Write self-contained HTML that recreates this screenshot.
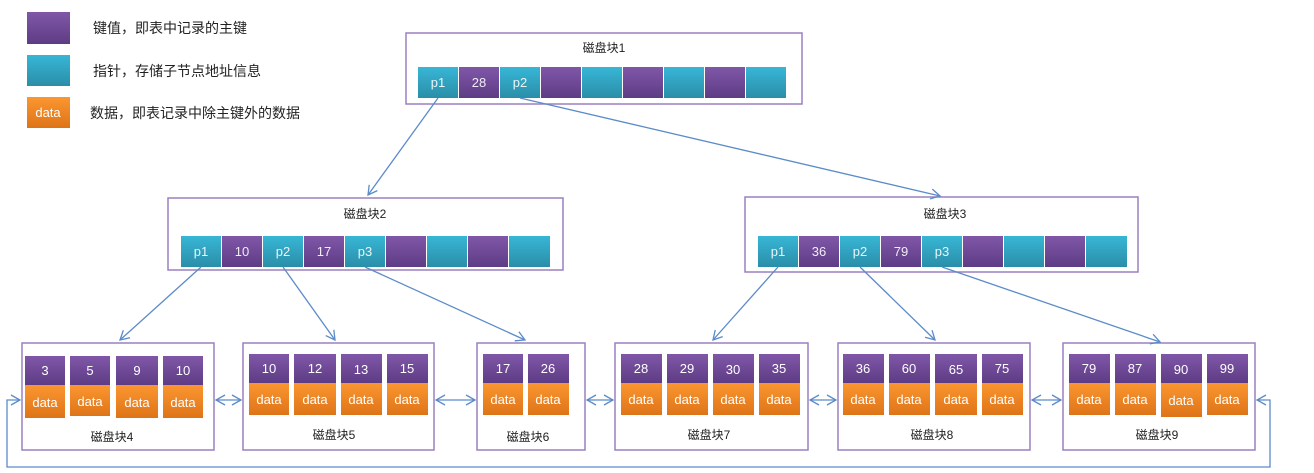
<!DOCTYPE html>
<html><head><meta charset="utf-8"><style>
html,body{margin:0;padding:0;background:#fff;}
svg{display:block;font-family:"Liberation Sans","Noto Sans CJK SC",sans-serif;}
</style></head><body>
<svg width="1314" height="473" viewBox="0 0 1314 473" xmlns="http://www.w3.org/2000/svg">
<defs>
<linearGradient id="t" x1="0" y1="0" x2="0" y2="1"><stop offset="0" stop-color="#38b6d6"/><stop offset="1" stop-color="#2a8ea8"/></linearGradient>
<linearGradient id="p" x1="0" y1="0" x2="0" y2="1"><stop offset="0" stop-color="#8057a8"/><stop offset="1" stop-color="#5e3c85"/></linearGradient>
<linearGradient id="o" x1="0" y1="0" x2="0" y2="1"><stop offset="0" stop-color="#fb9630"/><stop offset="1" stop-color="#de7418"/></linearGradient>
<marker id="a" markerWidth="12" markerHeight="12" refX="10" refY="6" orient="auto" markerUnits="userSpaceOnUse"><path d="M1,1 L10,6 L1,11" fill="none" stroke="#5b8bc9" stroke-width="1.3"/></marker>
<marker id="b" markerWidth="12" markerHeight="12" refX="2" refY="6" orient="auto" markerUnits="userSpaceOnUse"><path d="M11,1 L2,6 L11,11" fill="none" stroke="#5b8bc9" stroke-width="1.3"/></marker>
</defs>

<!-- legend -->
<rect x="27" y="12" width="43" height="32" fill="url(#p)"/>
<rect x="27" y="55" width="43" height="31" fill="url(#t)"/>
<rect x="27" y="97" width="43" height="31" fill="url(#o)"/>
<text x="48" y="117" font-size="13" fill="#fff" text-anchor="middle">data</text>
<g font-size="14" fill="#222">
<text x="93" y="33">键值，即表中记录的主键</text>
<text x="93" y="76">指针，存储子节点地址信息</text>
<text x="90" y="118">数据，即表记录中除主键外的数据</text>
</g>

<g fill="#fff" stroke="#9b80c0" stroke-width="1.5">
<rect x="406" y="33" width="396" height="71"/>
<rect x="168" y="198" width="395" height="72"/>
<rect x="745" y="197" width="393" height="75"/>
<rect x="22" y="343" width="192" height="107"/>
<rect x="243" y="343" width="191" height="107"/>
<rect x="477" y="343" width="108" height="107"/>
<rect x="615" y="343" width="193" height="107"/>
<rect x="838" y="343" width="192" height="107"/>
<rect x="1063" y="343" width="192" height="107"/>
</g>
<g font-size="12" fill="#222" text-anchor="middle">
<text x="604" y="52">磁盘块1</text>
<text x="365" y="218">磁盘块2</text>
<text x="945" y="218">磁盘块3</text>
<text x="112" y="441">磁盘块4</text>
<text x="334" y="439">磁盘块5</text>
<text x="528" y="441">磁盘块6</text>
<text x="709" y="439">磁盘块7</text>
<text x="932" y="439">磁盘块8</text>
<text x="1157" y="439">磁盘块9</text>
</g>

<!-- block1 -->
<g>
<rect x="418" y="67" width="40" height="31" fill="url(#t)"/>
<rect x="459" y="67" width="40" height="31" fill="url(#p)"/>
<rect x="500" y="67" width="40" height="31" fill="url(#t)"/>
<rect x="541" y="67" width="40" height="31" fill="url(#p)"/>
<rect x="582" y="67" width="40" height="31" fill="url(#t)"/>
<rect x="623" y="67" width="40" height="31" fill="url(#p)"/>
<rect x="664" y="67" width="40" height="31" fill="url(#t)"/>
<rect x="705" y="67" width="40" height="31" fill="url(#p)"/>
<rect x="746" y="67" width="40" height="31" fill="url(#t)"/>
</g>
<!-- block2 -->
<g>
<rect x="181" y="236" width="40" height="31" fill="url(#t)"/>
<rect x="222" y="236" width="40" height="31" fill="url(#p)"/>
<rect x="263" y="236" width="40" height="31" fill="url(#t)"/>
<rect x="304" y="236" width="40" height="31" fill="url(#p)"/>
<rect x="345" y="236" width="40" height="31" fill="url(#t)"/>
<rect x="386" y="236" width="40" height="31" fill="url(#p)"/>
<rect x="427" y="236" width="40" height="31" fill="url(#t)"/>
<rect x="468" y="236" width="40" height="31" fill="url(#p)"/>
<rect x="509" y="236" width="41" height="31" fill="url(#t)"/>
</g>
<!-- block3 -->
<g>
<rect x="758" y="236" width="40" height="31" fill="url(#t)"/>
<rect x="799" y="236" width="40" height="31" fill="url(#p)"/>
<rect x="840" y="236" width="40" height="31" fill="url(#t)"/>
<rect x="881" y="236" width="40" height="31" fill="url(#p)"/>
<rect x="922" y="236" width="40" height="31" fill="url(#t)"/>
<rect x="963" y="236" width="40" height="31" fill="url(#p)"/>
<rect x="1004" y="236" width="40" height="31" fill="url(#t)"/>
<rect x="1045" y="236" width="40" height="31" fill="url(#p)"/>
<rect x="1086" y="236" width="41" height="31" fill="url(#t)"/>
</g>
<g font-size="13" fill="#fff" text-anchor="middle" fill-opacity="0.9">
<text x="438" y="87">p1</text><text x="479" y="87">28</text><text x="520" y="87">p2</text>
<text x="201" y="256">p1</text><text x="242" y="256">10</text><text x="283" y="256">p2</text><text x="324" y="256">17</text><text x="365" y="256">p3</text>
<text x="778" y="256">p1</text><text x="819" y="256">36</text><text x="860" y="256">p2</text><text x="901" y="256">79</text><text x="942" y="256">p3</text>
</g>

<!-- leaves -->
<g>
<rect x="25" y="356" width="40" height="29" fill="url(#p)"/><rect x="25" y="385" width="40" height="33" fill="url(#o)"/>
<rect x="70" y="356" width="40" height="29" fill="url(#p)"/><rect x="70" y="385" width="40" height="31" fill="url(#o)"/>
<rect x="116" y="356" width="42" height="29" fill="url(#p)"/><rect x="116" y="385" width="42" height="33" fill="url(#o)"/>
<rect x="163" y="356" width="40" height="29" fill="url(#p)"/><rect x="163" y="385" width="40" height="33" fill="url(#o)"/>

<rect x="249" y="354" width="40" height="29" fill="url(#p)"/><rect x="249" y="383" width="40" height="32" fill="url(#o)"/>
<rect x="294" y="354" width="42" height="29" fill="url(#p)"/><rect x="294" y="383" width="42" height="32" fill="url(#o)"/>
<rect x="341" y="354" width="41" height="29" fill="url(#p)"/><rect x="341" y="383" width="41" height="32" fill="url(#o)"/>
<rect x="387" y="354" width="41" height="29" fill="url(#p)"/><rect x="387" y="383" width="41" height="32" fill="url(#o)"/>

<rect x="483" y="354" width="40" height="29" fill="url(#p)"/><rect x="483" y="383" width="40" height="32" fill="url(#o)"/>
<rect x="528" y="354" width="41" height="29" fill="url(#p)"/><rect x="528" y="383" width="41" height="32" fill="url(#o)"/>

<rect x="621" y="354" width="41" height="29" fill="url(#p)"/><rect x="621" y="383" width="41" height="32" fill="url(#o)"/>
<rect x="667" y="354" width="41" height="29" fill="url(#p)"/><rect x="667" y="383" width="41" height="32" fill="url(#o)"/>
<rect x="713" y="354" width="41" height="29" fill="url(#p)"/><rect x="713" y="383" width="41" height="32" fill="url(#o)"/>
<rect x="759" y="354" width="41" height="29" fill="url(#p)"/><rect x="759" y="383" width="41" height="32" fill="url(#o)"/>

<rect x="843" y="354" width="41" height="29" fill="url(#p)"/><rect x="843" y="383" width="41" height="32" fill="url(#o)"/>
<rect x="889" y="354" width="41" height="29" fill="url(#p)"/><rect x="889" y="383" width="41" height="32" fill="url(#o)"/>
<rect x="935" y="354" width="42" height="29" fill="url(#p)"/><rect x="935" y="383" width="42" height="32" fill="url(#o)"/>
<rect x="982" y="354" width="41" height="29" fill="url(#p)"/><rect x="982" y="383" width="41" height="32" fill="url(#o)"/>

<rect x="1069" y="354" width="41" height="29" fill="url(#p)"/><rect x="1069" y="383" width="41" height="32" fill="url(#o)"/>
<rect x="1115" y="354" width="41" height="29" fill="url(#p)"/><rect x="1115" y="383" width="41" height="32" fill="url(#o)"/>
<rect x="1161" y="354" width="41" height="29" fill="url(#p)"/><rect x="1161" y="383" width="41" height="34" fill="url(#o)"/>
<rect x="1207" y="354" width="41" height="29" fill="url(#p)"/><rect x="1207" y="383" width="41" height="32" fill="url(#o)"/>
</g>
<g font-size="13" fill="#fff" text-anchor="middle">
<text x="45" y="375">3</text><text x="90" y="375">5</text><text x="137" y="375">9</text><text x="183" y="375">10</text>
<text x="45" y="407">data</text><text x="90" y="406">data</text><text x="137" y="407">data</text><text x="183" y="407">data</text>
<text x="269" y="373">10</text><text x="315" y="373">12</text><text x="361" y="374">13</text><text x="407" y="373">15</text>
<text x="269" y="404">data</text><text x="315" y="404">data</text><text x="361" y="404">data</text><text x="407" y="404">data</text>
<text x="503" y="373">17</text><text x="548" y="373">26</text>
<text x="503" y="404">data</text><text x="548" y="404">data</text>
<text x="641" y="373">28</text><text x="687" y="373">29</text><text x="733" y="374">30</text><text x="779" y="373">35</text>
<text x="641" y="404">data</text><text x="687" y="404">data</text><text x="733" y="404">data</text><text x="779" y="404">data</text>
<text x="863" y="373">36</text><text x="909" y="373">60</text><text x="956" y="374">65</text><text x="1002" y="373">75</text>
<text x="863" y="404">data</text><text x="909" y="404">data</text><text x="956" y="404">data</text><text x="1002" y="404">data</text>
<text x="1089" y="373">79</text><text x="1135" y="373">87</text><text x="1181" y="374">90</text><text x="1227" y="373">99</text>
<text x="1089" y="404">data</text><text x="1135" y="404">data</text><text x="1181" y="405">data</text><text x="1227" y="404">data</text>
</g>

<!-- connectors -->
<g stroke="#5b8bc9" stroke-width="1.3" fill="none">
<line x1="438" y1="98" x2="368" y2="195" marker-end="url(#a)"/>
<line x1="520" y1="98" x2="940" y2="196" marker-end="url(#a)"/>
<line x1="201" y1="267" x2="120" y2="340" marker-end="url(#a)"/>
<line x1="283" y1="267" x2="335" y2="340" marker-end="url(#a)"/>
<line x1="365" y1="267" x2="525" y2="340" marker-end="url(#a)"/>
<line x1="778" y1="267" x2="713" y2="340" marker-end="url(#a)"/>
<line x1="860" y1="267" x2="935" y2="340" marker-end="url(#a)"/>
<line x1="942" y1="267" x2="1160" y2="342" marker-end="url(#a)"/>
<line x1="216" y1="400" x2="241" y2="400" marker-start="url(#b)" marker-end="url(#a)"/>
<line x1="436" y1="400" x2="475" y2="400" marker-start="url(#b)" marker-end="url(#a)"/>
<line x1="587" y1="400" x2="613" y2="400" marker-start="url(#b)" marker-end="url(#a)"/>
<line x1="810" y1="400" x2="836" y2="400" marker-start="url(#b)" marker-end="url(#a)"/>
<line x1="1032" y1="400" x2="1061" y2="400" marker-start="url(#b)" marker-end="url(#a)"/>
<polyline points="1257,400 1270,400 1270,467 7,467 7,400 20,400" marker-start="url(#b)" marker-end="url(#a)"/>
</g>
</svg>
</body></html>
